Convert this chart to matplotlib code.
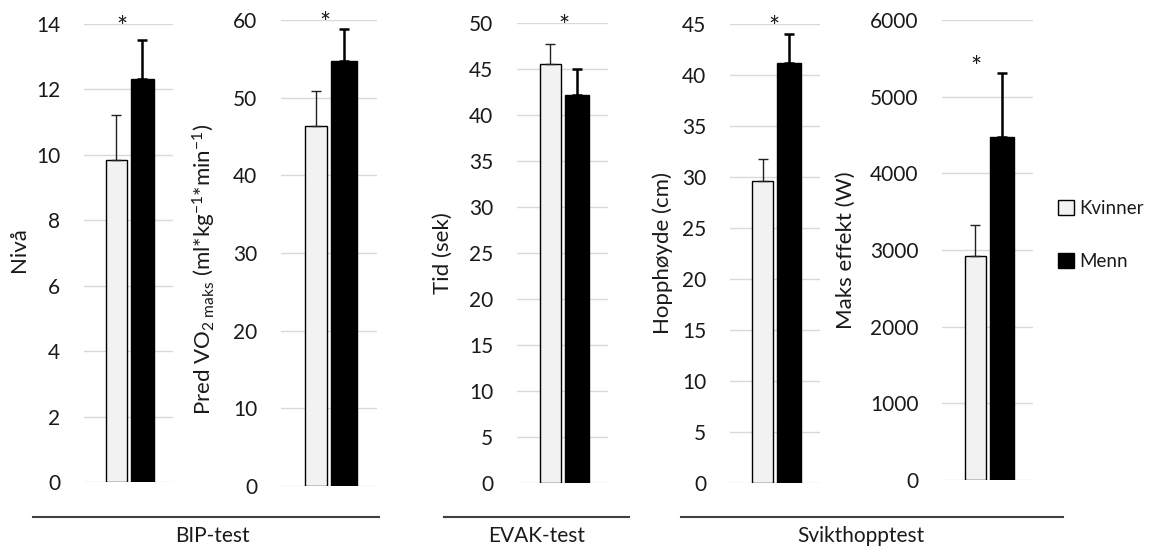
import matplotlib.pyplot as plt
from matplotlib.patches import Patch
from matplotlib.lines import Line2D

plt.rcParams['font.family'] = ['Lato', 'DejaVu Sans']
plt.rcParams['mathtext.fontset'] = 'custom'
plt.rcParams['mathtext.rm'] = 'Lato'
plt.rcParams['mathtext.it'] = 'Lato'

# data
groups = ['Kvinner', 'Menn']
niva_mean = [9.84, 12.31]
niva_sd = [1.39, 1.21]
vo2_mean = [46.3, 54.7]
vo2_sd = [4.6, 4.1]
evak_mean = [45.5, 42.2]
evak_sd = [2.2, 2.8]
hopp_mean = [29.6, 41.2]
hopp_sd = [2.2, 2.8]
effekt_mean = [2920, 4470]
effekt_sd = [410, 840]

ylabels = ['Nivå',
           'Pred VO$_{2\\ \\mathrm{maks}}$ (ml*kg$^{\\mathrm{-1}}$*min$^{\\mathrm{-1}}$)',
           'Tid (sek)', 'Hopphøyde (cm)', 'Maks effekt (W)']
ymax = [14, 60, 50, 45, 6000]
ystep = [2, 10, 5, 5, 1000]
test_names = ['BIP-test', 'EVAK-test', 'Svikthopptest']

W, H = 1153, 554
fig = plt.figure(figsize=(W / 100, H / 100), dpi=100)

# panel boxes in pixels: x0, x1, ytop, ybottom
boxes = [(84, 173, 24, 482), (281, 377, 20, 486), (517, 608, 23, 483),
         (730, 820, 24, 483), (942, 1033, 20, 480)]
label_right = [29, 218, 453, 673, 856]
label_mid = [250, 269, 253, 253, 250]
star_pos = [(0.43, 0.99), (0.46, 0.99), (0.52, 0.99), (0.49, 0.99), (0.37, 0.895)]

means = [niva_mean, vo2_mean, evak_mean, hopp_mean, effekt_mean]
sds = [niva_sd, vo2_sd, evak_sd, hopp_sd, effekt_sd]
xpos = [0.365, 0.655]
bar_w = [0.235, 0.265]
colors = ['#F2F2F2', '#000000']
text_col = '#1a1a1a'
fs = 15
fs_lab = 16

for i, (x0, x1, yt, yb) in enumerate(boxes):
    ax = fig.add_axes([x0 / W, 1 - yb / H, (x1 - x0) / W, (yb - yt) / H])
    for j in range(2):
        ax.bar(xpos[j], means[i][j], width=bar_w[j], color=colors[j],
               edgecolor='black', linewidth=1.0, zorder=2)
        ax.errorbar(xpos[j], means[i][j], yerr=[[0], [sds[i][j]]], fmt='none',
                    ecolor='#222222' if j == 0 else 'black',
                    elinewidth=1.0 if j == 0 else 1.8,
                    capsize=3.5, capthick=1.0 if j == 0 else 1.8, zorder=3)
    ax.set_xlim(0, 1)
    ax.set_ylim(0, ymax[i])
    ax.set_yticks(range(0, ymax[i] + 1, ystep[i]))
    ax.set_xticks([])
    ax.grid(axis='y', color='#D9D9D9', linewidth=1.0, zorder=0)
    ax.set_axisbelow(True)
    for s in ax.spines.values():
        s.set_visible(False)
    ax.tick_params(axis='y', length=0, pad=17, labelsize=fs, labelcolor=text_col)
    ax.set_ylabel(ylabels[i], fontsize=fs_lab, color=text_col)
    ax.yaxis.set_label_coords((label_right[i] - x0) / (x1 - x0),
                              (yb - label_mid[i]) / (yb - yt))
    ax.text(star_pos[i][0], star_pos[i][1], '*', transform=ax.transAxes,
            ha='center', va='center', fontsize=fs + 4, color=text_col)

# test group lines and names under the panels
spans = [(33, 379), (444, 629), (681, 1063)]
for (a, b), name in zip(spans, test_names):
    fig.add_artist(Line2D([a / W, b / W], [1 - 517 / H, 1 - 517 / H],
                          transform=fig.transFigure, color='#404040', linewidth=1.5))
fig.text(212 / W, 1 - 536 / H, test_names[0], ha='center', va='center', fontsize=fs, color=text_col)
fig.text(537 / W, 1 - 536 / H, test_names[1], ha='center', va='center', fontsize=fs, color=text_col)
fig.text(861 / W, 1 - 536 / H, test_names[2], ha='center', va='center', fontsize=fs, color=text_col)

handles = [Patch(facecolor=colors[0], edgecolor='black', linewidth=1.0),
           Patch(facecolor=colors[1], edgecolor='black')]
fig.legend(handles, groups, loc='center left', bbox_to_anchor=(1058 / W, 1 - 235 / H),
           frameon=False, fontsize=13.5, handlelength=0.85, handleheight=0.85,
           handletextpad=0.3, labelspacing=1.9, labelcolor=text_col,
           borderpad=0, borderaxespad=0)

fig.savefig('out.png', dpi=100)
